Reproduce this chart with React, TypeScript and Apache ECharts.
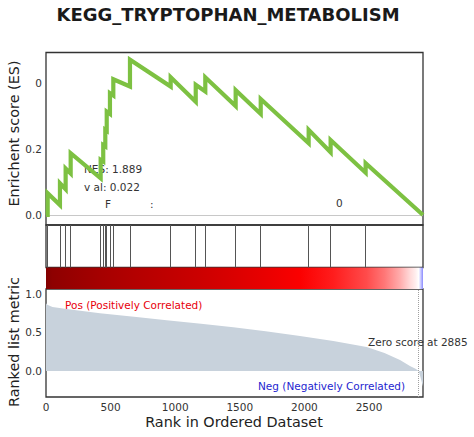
import React, { useEffect, useRef } from "react";
import * as echarts from "echarts";

const chartTitle = "KEGG_TRYPTOPHAN_METABOLISM";
const totalGenes = 2918;
const zeroScoreRank = 2885;

// gene-set hit positions (rank)
const hitRanks = [13, 108, 152, 191, 423, 443, 459, 470, 495, 521, 650, 965, 1159, 1233, 1468, 1662, 2033, 2203, 2474];

// running enrichment score vertices
const esRanks = [0, 13, 13, 108, 108, 152, 152, 191, 191, 423, 423, 443, 443, 459, 459, 470, 470, 495, 495, 521, 521, 650, 650, 965, 965, 1159, 1159, 1233, 1233, 1468, 1468, 1662, 1662, 2033, 2033, 2203, 2203, 2474, 2474, 2918];
const esValues = [0, 0, 0.066, 0.03, 0.096, 0.078, 0.141, 0.126, 0.187, 0.111, 0.167, 0.162, 0.212, 0.208, 0.258, 0.255, 0.313, 0.306, 0.369, 0.362, 0.411, 0.389, 0.47, 0.389, 0.417, 0.343, 0.394, 0.374, 0.417, 0.33, 0.378, 0.306, 0.351, 0.217, 0.258, 0.19, 0.227, 0.128, 0.157, 0];

// ranked list metric
const metricRanks = [0, 10, 50, 160, 418, 700, 934, 1200, 1450, 1700, 1966, 2224, 2482, 2620, 2740, 2817, 2860, 2885, 2900, 2918];
const metricValues = [0.88, 0.86, 0.83, 0.805, 0.75, 0.70, 0.66, 0.615, 0.567, 0.515, 0.455, 0.39, 0.31, 0.235, 0.143, 0.065, 0.03, 0, -0.09, -0.2];

const esTicks = [0, 0.2, 0.4];
const esTickLabels = ["0.0", "0.2", "0"];
const metricTicks = [0, 0.5, 1.0];
const rankTicks = [0, 500, 1000, 1500, 2000, 2500];

const FONT = "DejaVu Sans";

function seismic(t: number): string {
  let r = 1, g = 1, b = 1;
  if (t >= 0.5) { r = 1 - (t - 0.5); g = 0; b = 0; }
  else if (t >= 0) { r = 1; g = 1 - 2 * t; b = 1 - 2 * t; }
  else if (t > -0.5) { r = 1 + 2 * t; g = 1 + 2 * t; b = 1; }
  else { r = 0; g = 0; b = 1 - (-t - 0.5) * 1.4; }
  const c = (x: number) => Math.round(Math.max(0, Math.min(1, x)) * 255);
  return `rgb(${c(r)},${c(g)},${c(b)})`;
}

export default function App() {
  const ref = useRef<HTMLDivElement>(null);
  useEffect(() => {
    document.body.style.margin = "0";
    const chart = echarts.init(ref.current!, undefined, { renderer: "svg" });
    const vmax = Math.max(...metricValues.map((v) => Math.abs(v)));
    const stops = metricRanks.map((r, i) => ({ offset: r / totalGenes, color: seismic(metricValues[i] / vmax) }));

    const L = 46, W = 377;
    const grids = [
      { left: L, width: W, top: 52.5, height: 172.5, show: true, borderColor: "#333", borderWidth: 1.3, backgroundColor: "transparent" },
      { left: L, width: W, top: 225, height: 42.5, show: true, borderColor: "#333", borderWidth: 1.3, backgroundColor: "transparent" },
      { left: L, width: W, top: 267.5, height: 21.5, show: false },
      { left: L, width: W, top: 289, height: 108, show: true, borderColor: "#333", borderWidth: 1.3, backgroundColor: "transparent" },
    ];
    const xAxes = grids.map((_, i) => ({
      type: "value",
      gridIndex: i,
      min: 0,
      max: totalGenes,
      axisLine: { show: false },
      axisTick: { show: false },
      splitLine: { show: false },
      axisLabel: i === 3
        ? { show: true, customValues: rankTicks, margin: 4, color: "#333", fontSize: 10.5, fontFamily: FONT, formatter: (v: number) => String(v) }
        : { show: false },
    }));
    const yAxes = [
      {
        type: "value", gridIndex: 0, min: -0.0303, max: 0.492,
        axisLine: { show: false }, axisTick: { show: false }, splitLine: { show: false },
        axisLabel: {
          customValues: esTicks, margin: 4, color: "#333", fontSize: 10.5, fontFamily: FONT,
          formatter: (v: number) => esTickLabels[esTicks.findIndex((t) => Math.abs(t - v) < 1e-6)] ?? "",
        },
      },
      { type: "value", gridIndex: 1, min: 0, max: 1, show: false },
      { type: "value", gridIndex: 2, min: 0, max: 1, show: false },
      {
        type: "value", gridIndex: 3, min: -0.338, max: 1.065,
        axisLine: { show: false }, axisTick: { show: false }, splitLine: { show: false },
        axisLabel: {
          customValues: metricTicks, margin: 4, color: "#333", fontSize: 10.5, fontFamily: FONT,
          formatter: (v: number) => v.toFixed(1),
        },
      },
    ];

    const txt = (text: string, x: number, y: number, fill: string, size: number, extra: any = {}) => ({
      type: "text", x, y, silent: true,
      style: { text, fill, fontSize: size, fontFamily: FONT, align: "left", verticalAlign: "middle", ...extra.style },
      ...extra.el,
    });

    chart.setOption({
      animation: false,
      backgroundColor: "#fff",
      grid: grids,
      xAxis: xAxes,
      yAxis: yAxes,
      series: [
        {
          type: "line", xAxisIndex: 0, yAxisIndex: 0,
          data: esRanks.map((r, i) => [r, esValues[i]]),
          symbol: "none",
          lineStyle: { color: "#7dc142", width: 4.2, join: "miter" },
          z: 3,
          markLine: {
            silent: true, symbol: "none", label: { show: false },
            lineStyle: { color: "#c8c8c8", width: 1, type: "solid" },
            data: [{ yAxis: 0 }],
            z: 1,
          },
        },
        {
          type: "line", xAxisIndex: 1, yAxisIndex: 1,
          data: [[0, -5]], symbol: "none", lineStyle: { width: 0 },
          markLine: {
            silent: true, symbol: "none", label: { show: false },
            lineStyle: { color: "#555", width: 1, type: "solid" },
            data: hitRanks.map((r) => ({ xAxis: r })),
          },
        },
        {
          type: "custom", xAxisIndex: 2, yAxisIndex: 2,
          data: [[0, totalGenes]],
          renderItem: (params: any, api: any) => {
            const s = api.coord([api.value(0), 0]);
            const e = api.coord([api.value(1), 0]);
            const cs = params.coordSys;
            return {
              type: "rect",
              shape: { x: s[0], y: cs.y, width: e[0] - s[0], height: cs.height },
              style: { fill: new echarts.graphic.LinearGradient(0, 0, 1, 0, stops) },
            };
          },
        },
        {
          type: "line", xAxisIndex: 3, yAxisIndex: 3,
          data: metricRanks.map((r, i) => [r, metricValues[i]]),
          symbol: "none",
          lineStyle: { width: 0 },
          areaStyle: { color: "#c8d2dc", opacity: 1, origin: 0 },
          markLine: {
            silent: true, symbol: "none", label: { show: false },
            lineStyle: { color: "#a0a0a0", width: 1, type: "dotted" },
            data: [{ xAxis: zeroScoreRank }],
          },
        },
      ],
      graphic: [
        txt(chartTitle, 228, 14, "#1a1a1a", 18, { style: { fontWeight: "bold", align: "center" } }),
        txt("NES: 1.889", 84, 169, "#333", 10.5),
        txt("v al: 0.022", 84, 187, "#333", 10.5),
        txt("F", 105, 204, "#333", 10.5),
        txt(":", 150, 204, "#333", 10.5),
        txt("0", 336, 203, "#333", 10.5),
        txt("Pos (Positively Correlated)", 65, 304.5, "#e8000b", 10.5),
        txt("Zero score at 2885", 368, 342, "#333", 10.5),
        txt("Neg (Negatively Correlated)", 258, 386, "#1f1fd0", 10.5),
        txt("Enrichent score (ES)", 13.5, 133.5, "#222", 14.4, { style: { align: "center" }, el: { rotation: Math.PI / 2 } }),
        txt("Ranked list metric", 14, 342, "#222", 14.4, { style: { align: "center" }, el: { rotation: Math.PI / 2 } }),
        txt("Rank in Ordered Dataset", 234, 422, "#222", 14.4, { style: { align: "center" } }),
      ],
    });
    return () => chart.dispose();
  }, []);
  return <div ref={ref} style={{ width: 474, height: 437 }} />;
}
